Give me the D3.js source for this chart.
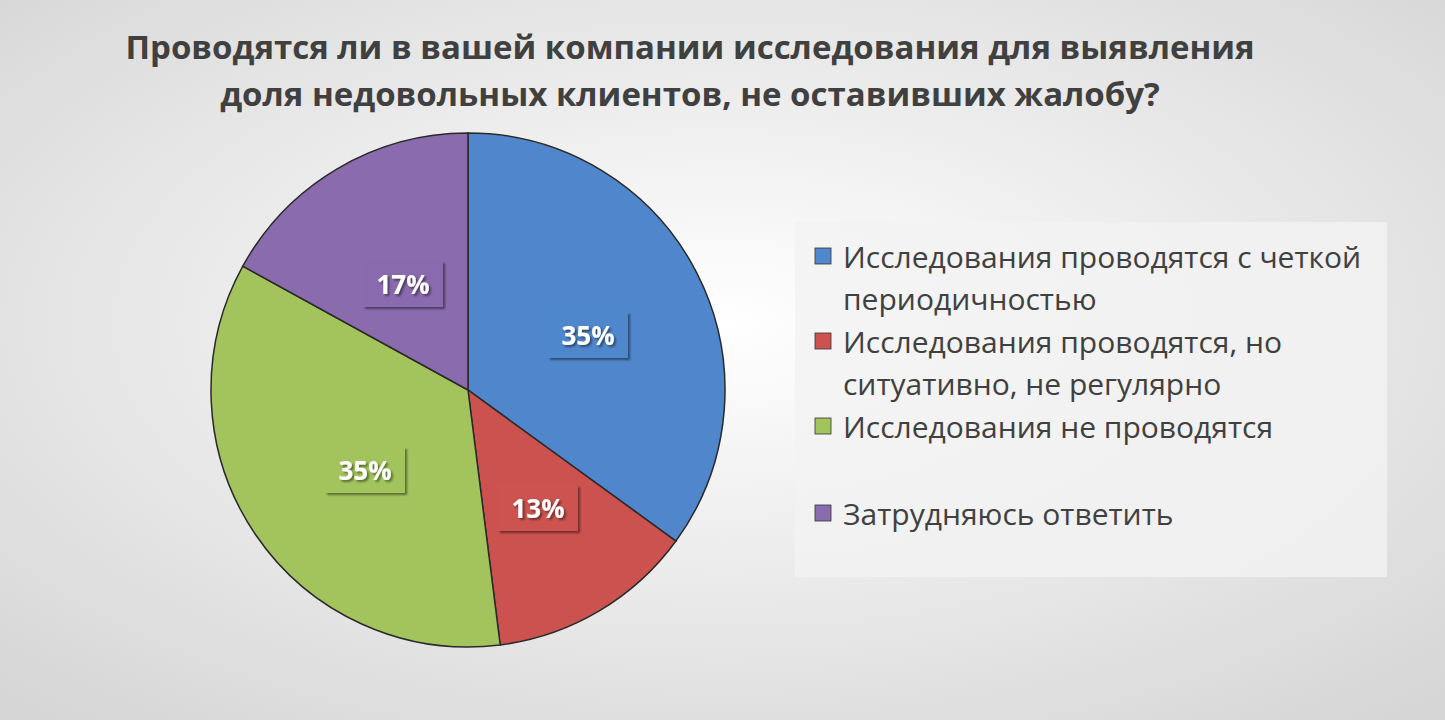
<!DOCTYPE html>
<html><head><meta charset="utf-8">
<script src="https://cdn.jsdelivr.net/npm/d3@7"></script>
<style>body{margin:0;overflow:hidden}</style>
</head><body><svg id="c" width="1445" height="720"></svg>
<script>
// data
const categories = ["Исследования проводятся с четкой периодичностью",
  "Исследования проводятся, но ситуативно, не регулярно",
  "Исследования не проводятся",
  "Затрудняюсь ответить"];
const legendLines = [["Исследования проводятся с четкой","периодичностью"],
  ["Исследования проводятся, но","ситуативно, не регулярно"],
  ["Исследования не проводятся"],
  ["Затрудняюсь ответить"]];
const values = [35, 13, 35, 17];
const colors = ["#5087cc","#cc524f","#a3c45d","#8a6bae"];
const labelPos = [[588,335],[538,508],[365,470],[403,284]];

const svg = d3.select("#c");
const defs = svg.append("defs");
const bg = defs.append("radialGradient").attr("id","bg").attr("cx","50%").attr("cy","45%").attr("r","75%");
bg.append("stop").attr("offset","0%").attr("stop-color","#ffffff");
bg.append("stop").attr("offset","100%").attr("stop-color","#d4d4d4");
svg.append("rect").attr("width",1445).attr("height",720).attr("fill","url(#bg)");

const sh = defs.append("filter").attr("id","sh").attr("x","-20%").attr("y","-20%").attr("width","140%").attr("height","140%");
sh.append("feDropShadow").attr("dx",2).attr("dy",2).attr("stdDeviation",1.2).attr("flood-opacity",0.45);

// title
svg.append("text").attr("x",690).attr("text-anchor","middle")
  .style("font-family","'Open Sans',sans-serif").style("font-weight","bold").style("font-size","33px").attr("fill","#404040")
  .selectAll("tspan").data(["Проводятся ли в вашей компании исследования для выявления","доля недовольных клиентов, не оставивших жалобу?"])
  .join("tspan").attr("x",690).attr("y",(d,i)=>59+i*47).text(d=>d);

// pie
const cx=468, cy=390, r=257;
const pie = d3.pie().sort(null)(values);
const arc = d3.arc().innerRadius(0).outerRadius(r);
const g = svg.append("g").attr("transform",`translate(${cx},${cy})`);
g.selectAll("path").data(pie).join("path").attr("d",arc)
  .attr("fill",(d,i)=>colors[i]).attr("stroke","#2a2a2a").attr("stroke-width",1.5);

// data labels
pie.forEach((d,i)=>{
  const t = values[i]+"%";
  const [x,y] = labelPos[i];
  const lg = svg.append("g");
  lg.append("rect").attr("x",x-40).attr("y",y-23).attr("width",80).attr("height",46)
    .attr("fill",colors[i]).attr("filter","url(#sh)");
  lg.append("text").attr("x",x).attr("y",y+10).attr("text-anchor","middle")
    .style("font-family","'Open Sans',sans-serif").style("font-weight","bold").style("font-size","26px")
    .attr("fill","#fff").attr("filter","url(#sh)").text(t);
});

// legend
svg.append("rect").attr("x",795).attr("y",222).attr("width",592).attr("height",355).attr("fill","#f3f3f3").attr("opacity",0.8);
const rows = [258,343,428,515];
legendLines.forEach((lines,i)=>{
  svg.append("rect").attr("x",815).attr("y",rows[i]-10).attr("width",16).attr("height",16)
    .attr("fill",colors[i]).attr("stroke","#333").attr("stroke-width",0.8);
  svg.append("text").style("font-family","'Open Sans',sans-serif").style("font-size","30px").attr("fill","#404040")
    .selectAll("tspan").data(lines).join("tspan").attr("x",843).attr("y",(d,j)=>rows[i]+10+j*42).text(d=>d);
});
</script></body></html>
